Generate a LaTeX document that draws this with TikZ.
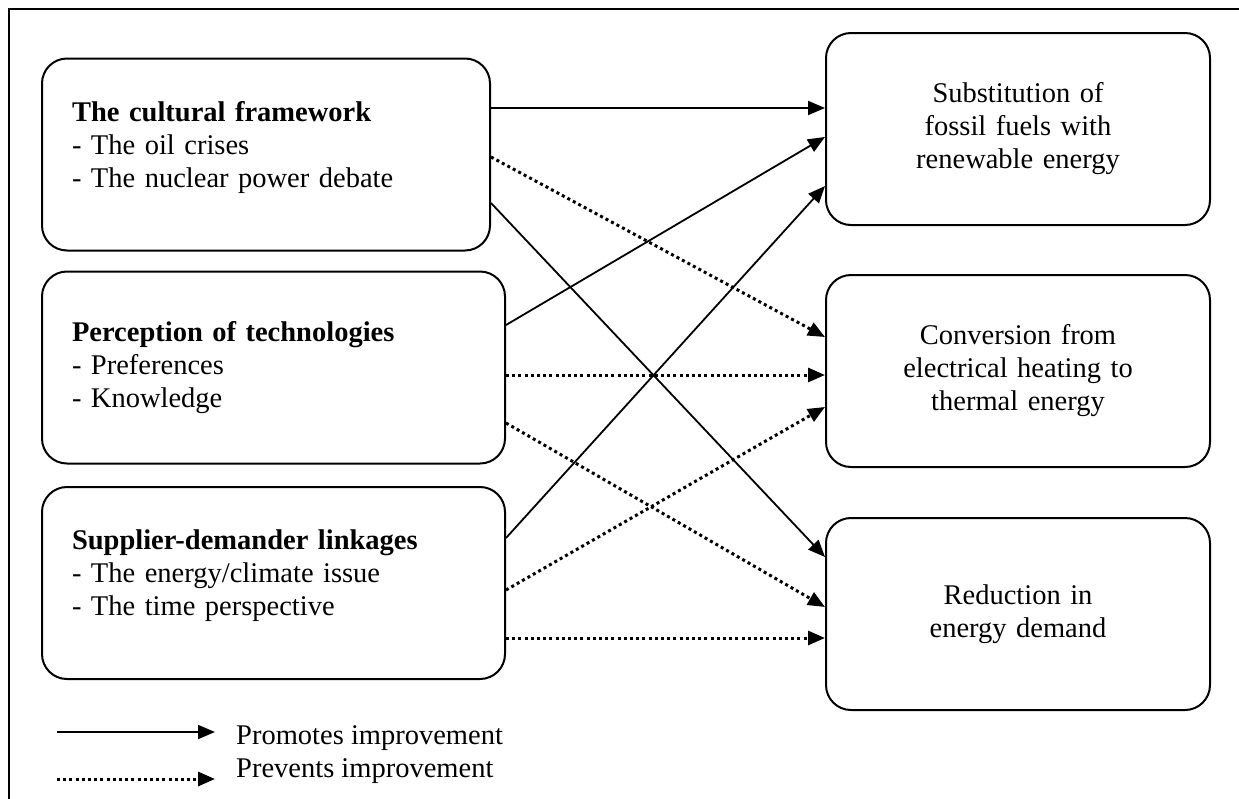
\documentclass[tikz,border=0pt]{standalone}
\usepackage{fontspec}
\setmainfont{Liberation Serif}
\usetikzlibrary{positioning,arrows.meta,calc}

\begin{document}
\begin{tikzpicture}[
  x=1pt, y=-1pt,
  font=\fontsize{28.5}{33}\selectfont,
  >={Triangle[length=17pt,width=14pt]},
  box/.style={draw, line width=2pt, rounded corners=25pt, minimum height=192pt,
              inner xsep=30pt, inner ysep=0pt},
  cause/.style={box, align=left, text width=403pt, text depth=86pt},
  effect/.style={box, align=center, text width=324pt},
  prom/.style={line width=1.8pt, ->},
  prev/.style={line width=3pt, dash pattern=on 3pt off 3.2pt, ->},
  lgd/.style={inner sep=0pt, anchor=base west},
]
  \useasboundingbox (0,0) rectangle (1239,798);
  % outer frame (only top and left edge show)
  \draw[line width=2pt] (9,800) -- (9,9) -- (1241,9);

  % Factors (left column)
  \node[cause, text width=388pt] (cult) at (266,154.5)
    {\textbf{The cultural framework}\\- The oil crises\\- The nuclear power debate};
  \node[cause, text depth=72pt] (perc) at (273.5,367.5)
    {\textbf{Perception of technologies}\\- Preferences\\- Knowledge};
  \node[cause] (link) at (273.5,583)
    {\textbf{Supplier-demander linkages}\\- The energy/climate issue\\- The time perspective};

  % Improvements (right column)
  \node[effect] (subst) at (1018,129)
    {Substitution of\\fossil fuels with\\renewable energy};
  \node[effect, below=48pt of subst] (conv)
    {Conversion from\\electrical heating to\\thermal energy};
  \node[effect, below=49pt of conv] (redu)
    {Reduction in\\energy demand};

  % Promoting links
  \draw[prom] ([yshift=46.5pt]cult.east) -- ([yshift=21pt]subst.west);
  \draw[prom] ([yshift=42.5pt]perc.east) -- ([yshift=-8pt]subst.west);
  \draw[prom] ([yshift=45pt]link.east) -- ([yshift=-57pt]subst.west);
  \draw[prom] ([yshift=-48.5pt]cult.east) -- ([yshift=57pt]redu.west);
  % Preventing links
  \draw[prev] ([yshift=-2.5pt]cult.east) -- ([yshift=34pt]conv.west);
  \draw[prev] ([yshift=-7.5pt]perc.east) -- ([yshift=-7.5pt]perc.east -| conv.west);
  \draw[prev] ([yshift=-7pt]link.east) -- ([yshift=-36pt]conv.west);
  \draw[prev] ([yshift=-55.5pt]perc.east) -- ([yshift=7pt]redu.west);
  \draw[prev] ([yshift=-55pt]link.east) -- ([yshift=-55pt]link.east -| redu.west);

  % Legend
  \node[lgd] (promtxt) at (236,744) {Promotes improvement};
  \node[lgd] (prevtxt) at (236,777) {Prevents improvement};
  \coordinate (pl) at (57,732);
  \coordinate (vl) at (57,779);
  \draw[prom, shorten >=21pt] (pl) -- (pl -| promtxt.west);
  \draw[prev, shorten >=21pt] (vl) -- (vl -| prevtxt.west);
\end{tikzpicture}
\end{document}
